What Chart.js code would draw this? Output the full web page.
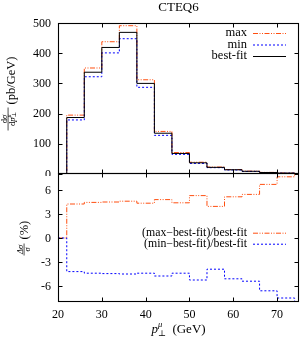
<!DOCTYPE html>
<html>
<head>
<meta charset="utf-8">
<script src="https://cdn.jsdelivr.net/npm/chart.js@4.4.1/dist/chart.umd.min.js"></script>
<style>
  body { margin: 0; background: #fff; }
  #wrap { position: relative; width: 300px; height: 339px; }
  canvas { position: absolute; left: 0; }
</style>
</head>
<body>
<div id="wrap">
  <canvas id="cTop" width="300" height="176" style="top:0;width:300px;height:176px"></canvas>
  <canvas id="cBot" width="300" height="169" style="top:170px;width:300px;height:169px"></canvas>
</div>
<script>
// bin edges (GeV), last one is the right edge of the last bin
var edges = [20, 22, 26, 30, 34, 38, 42, 46, 50, 54, 58, 62, 66, 70, 74, 78];
// dsigma/dpT (pb/GeV) per bin
var bestfit = [0, 187, 337, 419, 469, 300, 135, 68, 37, 22, 14, 9, 5, 3, 1.5];
var maxPdf  = [0, 195, 351, 438, 491, 312, 141, 71, 39, 23, 14.7, 9.5, 5.3, 3.2, 1.6];
var minPdf  = [0, 179, 322, 401, 448, 287, 128, 65, 35, 21, 13.3, 8.5, 4.7, 2.8, 1.4];
// relative deviation (%) per bin
var relMax = [0, 4.25, 4.45, 4.5, 4.6, 4.35, 4.8, 4.4, 5.3, 3.95, 5.15, 5.45, 6.7, 7.65, 8.3];
var relMin = [0, -4.2, -4.4, -4.45, -4.5, -4.4, -4.75, -4.4, -5.25, -3.9, -5.1, -5.4, -6.6, -7.5, -8.5];

var xTicks = [20, 30, 40, 50, 60, 70];
var yTicksTop = [0, 100, 200, 300, 400, 500];
var yTicksBot = [-6, -3, 0, 3, 6];

var ORANGE = '#ff4f10';
var BLUE = '#0000ff';
var DASHDOT = [5, 1.5, 1, 1.5, 1, 1.5];
var SERIF = '"Liberation Serif", "DejaVu Serif", serif';

function steps(vals) {
  var pts = [];
  for (var i = 0; i < vals.length; i++) pts.push({x: edges[i], y: vals[i]});
  pts.push({x: edges[vals.length], y: vals[vals.length - 1]});
  return pts;
}

function ds(label, vals, color, dash) {
  return {
    label: label, data: steps(vals), borderColor: color, borderWidth: 1,
    borderDash: dash, pointRadius: 0, stepped: true, fill: false, tension: 0
  };
}

// draw a row of text pieces, each {t, f, dy}, returns total width
function runs(ctx, x, y, parts, measureOnly) {
  var w = 0;
  parts.forEach(function(p) {
    ctx.font = p.f;
    if (!measureOnly) ctx.fillText(p.t, x + w, y + (p.dy || 0));
    if (!p.stack) w += ctx.measureText(p.t).width;
  });
  return w;
}

function legendRow(ctx, y, text, color, dash, size) {
  ctx.font = size + 'px ' + SERIF;
  ctx.textAlign = 'right';
  ctx.textBaseline = 'middle';
  ctx.fillStyle = '#000';
  ctx.fillText(text, 247, y);
  ctx.save();
  ctx.strokeStyle = color;
  ctx.lineWidth = 1;
  ctx.setLineDash(dash);
  ctx.beginPath();
  ctx.moveTo(253, y + 0.5);
  ctx.lineTo(286, y + 0.5);
  ctx.stroke();
  ctx.restore();
}

// frame with inward mirror ticks; topEdge is the y of the upper frame line
function frameAndTicks(chart, yTicks, topEdge) {
  var ctx = chart.ctx, a = chart.chartArea;
  var xs = chart.scales.x, ys = chart.scales.y;
  var l = a.left + 0.5, r = a.right - 0.5, b = a.bottom - 0.5;
  ctx.save();
  ctx.strokeStyle = '#000';
  ctx.lineWidth = 1.1;
  ctx.setLineDash([]);
  ctx.strokeRect(l, topEdge, r - l, b - topEdge);
  ctx.lineWidth = 1;
  ctx.beginPath();
  yTicks.forEach(function(v) {
    var py = Math.round(ys.getPixelForValue(v)) + 0.5;
    ctx.moveTo(l, py); ctx.lineTo(l + 4, py);
    ctx.moveTo(r, py); ctx.lineTo(r - 4, py);
  });
  xTicks.forEach(function(v) {
    var px = Math.round(xs.getPixelForValue(v)) + 0.5;
    ctx.moveTo(px, topEdge); ctx.lineTo(px, topEdge + 4);
    ctx.moveTo(px, b); ctx.lineTo(px, b - 4);
  });
  ctx.stroke();
  ctx.fillStyle = '#000';
  ctx.font = '12px ' + SERIF;
  ctx.textAlign = 'right';
  ctx.textBaseline = 'middle';
  yTicks.forEach(function(v) {
    ctx.fillText(String(v), 51, ys.getPixelForValue(v) + 0.5);
  });
  ctx.restore();
}

var topDeco = {
  id: 'topDeco',
  afterDraw: function(chart) {
    var ctx = chart.ctx, a = chart.chartArea;
    frameAndTicks(chart, yTicksTop, a.top + 0.5);
    ctx.save();
    ctx.fillStyle = '#000';
    ctx.font = '13px ' + SERIF;
    ctx.textAlign = 'center';
    ctx.textBaseline = 'alphabetic';
    ctx.fillText('CTEQ6', (a.left + a.right) / 2, 11);
    ctx.restore();
    legendRow(ctx, 33, 'max', ORANGE, DASHDOT, 12.5);
    legendRow(ctx, 44.5, 'min', BLUE, [2, 2], 12.5);
    legendRow(ctx, 56, 'best-fit', '#000', [], 12.5);

    // y title: dσ/dp⊥^μ (pb/GeV), rotated
    ctx.save();
    ctx.translate(15, 93.5);
    ctx.rotate(-Math.PI / 2);
    ctx.fillStyle = '#000';
    ctx.textAlign = 'left';
    ctx.textBaseline = 'alphabetic';
    var num = [{t: 'd', f: '8.5px ' + SERIF}, {t: 'σ', f: 'italic 8.5px ' + SERIF}];
    var den = [{t: 'd', f: '8.5px ' + SERIF}, {t: 'p', f: 'italic 8.5px ' + SERIF},
               {t: 'μ', f: 'italic 6px ' + SERIF, dy: -3.5, stack: true},
               {t: '⊥', f: '6px ' + SERIF, dy: 1.8}];
    var fx0 = -37, fx1 = -14, fc = (fx0 + fx1) / 2;
    var wn = runs(ctx, 0, 0, num, true);
    runs(ctx, fc - wn / 2, -8.5, num);
    var wd = runs(ctx, 0, 0, den, true);
    runs(ctx, fc - wd / 2, -0.5, den);
    ctx.fillRect(fx0, -7.3, fx1 - fx0, 0.7);
    ctx.font = '12.5px ' + SERIF;
    ctx.fillText('(pb/GeV)', -11, 0);
    ctx.restore();
  }
};

var botDeco = {
  id: 'botDeco',
  afterDraw: function(chart) {
    var ctx = chart.ctx, a = chart.chartArea, xs = chart.scales.x;
    // share the frame line drawn by the upper panel
    frameAndTicks(chart, yTicksBot, a.top - 0.5);
    ctx.save();
    ctx.fillStyle = '#000';
    ctx.font = '12px ' + SERIF;
    ctx.textAlign = 'center';
    ctx.textBaseline = 'alphabetic';
    xTicks.forEach(function(v) {
      ctx.fillText(String(v), xs.getPixelForValue(v), 148);
    });
    // x title p⊥^μ (GeV)
    ctx.textAlign = 'left';
    var xt = [{t: 'p', f: 'italic 13px ' + SERIF},
              {t: 'μ', f: 'italic 8.5px ' + SERIF, dy: -6, stack: true},
              {t: '⊥', f: '8.5px ' + SERIF, dy: 3},
              {t: '  (GeV)', f: '13px ' + SERIF}];
    var w = runs(ctx, 0, 0, xt, true);
    runs(ctx, (a.left + a.right) / 2 - w / 2, 163, xt);

    // y title Δσ/σ (%)
    ctx.translate(28, 69.5);
    ctx.rotate(-Math.PI / 2);
    var num = [{t: 'Δσ', f: 'italic 8.5px ' + SERIF}];
    var den = [{t: 'σ', f: 'italic 8.5px ' + SERIF}];
    var fx0 = -16, fx1 = -4, fc = (fx0 + fx1) / 2;
    var wn = runs(ctx, 0, 0, num, true);
    runs(ctx, fc - wn / 2, -5.5, num);
    var wd = runs(ctx, 0, 0, den, true);
    runs(ctx, fc - wd / 2, 1.5, den);
    ctx.fillRect(fx0, -4.3, fx1 - fx0, 0.7);
    ctx.font = '12.5px ' + SERIF;
    ctx.fillText('(%)', 0, 0);
    ctx.restore();
    legendRow(ctx, 62.7, '(max\u2212best-fit)/best-fit', ORANGE, DASHDOT, 11.8);
    legendRow(ctx, 73.7, '(min\u2212best-fit)/best-fit', BLUE, [2, 2], 11.8);
  }
};

var common = {
  responsive: false,
  animation: false,
  plugins: { legend: { display: false }, tooltip: { enabled: false } }
};

new Chart(document.getElementById('cTop'), {
  type: 'line',
  data: { datasets: [
    ds('best-fit', bestfit, '#000', []),
    ds('min', minPdf, BLUE, [2, 2]),
    ds('max', maxPdf, ORANGE, DASHDOT)
  ]},
  options: Object.assign({}, common, {
    layout: { padding: { left: 58, right: 1, top: 23, bottom: 2 } },
    scales: {
      x: { type: 'linear', min: 20, max: 75, display: false },
      y: { type: 'linear', min: 0, max: 500, display: false }
    }
  }),
  plugins: [topDeco]
});

new Chart(document.getElementById('cBot'), {
  type: 'line',
  data: { datasets: [
    ds('(min-best-fit)/best-fit', relMin, BLUE, [2, 2]),
    ds('(max-best-fit)/best-fit', relMax, ORANGE, DASHDOT)
  ]},
  options: Object.assign({}, common, {
    layout: { padding: { left: 58, right: 1, top: 4, bottom: 37 } },
    scales: {
      x: { type: 'linear', min: 20, max: 75, display: false },
      y: { type: 'linear', min: -8, max: 8, display: false }
    }
  }),
  plugins: [botDeco]
});
</script>
</body>
</html>
